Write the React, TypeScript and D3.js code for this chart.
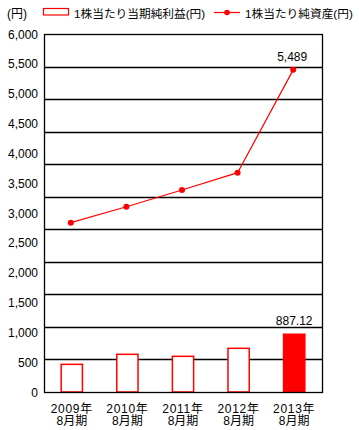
import React from "react";
import * as d3 from "d3";

const periods: string[][] = [
  ["2009年", "8月期"],
  ["2010年", "8月期"],
  ["2011年", "8月期"],
  ["2012年", "8月期"],
  ["2013年", "8月期"],
];
const eps: number[] = [425, 579, 548, 671, 887.12];
const bps: number[] = [2885, 3157, 3442, 3737, 5489];
const axisTicks: number[] = [0, 500, 1000, 1500, 2000, 2500, 3000, 3500, 4000, 4500, 5000, 5500, 6000];
const gridTicks: number[] = [500, 1000, 1500, 2000, 2500, 3000, 3500, 4000, 4500, 5000];
const legendLabels: string[] = ["1株当たり当期純利益(円)", "1株当たり純資産(円)"];

const font = "'Liberation Sans', Arial, 'Noto Sans CJK JP', sans-serif";

const App = (): React.JSX.Element => {
  const width = 359;
  const height = 430;
  const left = 44;
  const right = 322;
  const top = 34;
  const bottom = 392;

  const keys = periods.map((p) => p[0]);
  const x = d3.scaleBand<string>(keys, [left, right]).paddingInner(0.6).paddingOuter(0.3);
  const yAxis = d3.scaleLinear([0, 6000], [bottom, top]);
  const yBar = d3.scaleLinear([0, 5500], [bottom, top]);
  const yLine = d3.scaleLinear([0, 6100], [bottom, top]);
  const cx = (i: number) => (x(keys[i]) as number) + x.bandwidth() / 2;

  const line = d3.line<number>((_d, i) => cx(i) - 1, (d) => yLine(d));
  const fmt = d3.format(",");
  const last = eps.length - 1;

  return (
    <div style={{ position: "absolute", left: 0, top: 0 }}>
      <svg width={width} height={height} style={{ display: "block", fontFamily: font }}>
        <rect width={width} height={height} fill="#fff" />
        {/* legend */}
        <text x={7} y={18} fontSize={12}>(円)</text>
        <rect x={43.5} y={8.5} width={25} height={6.5} fill="#fff" stroke="#f00" strokeWidth={1.2} />
        <text x={74} y={18} fontSize={11.7}>{legendLabels[0]}</text>
        <line x1={214} x2={240} y1={12.5} y2={12.5} stroke="#f00" strokeWidth={1.2} />
        <circle cx={227} cy={12.5} r={2.8} fill="#f00" />
        <text x={245} y={18} fontSize={11.7}>{legendLabels[1]}</text>

        {/* grid */}
        {gridTicks.map((t) => (
          <line key={t} x1={left} x2={right} y1={Math.round(yBar(t)) + 0.5} y2={Math.round(yBar(t)) + 0.5} stroke="#000" strokeWidth={1.3} />
        ))}

        {/* bars */}
        {eps.map((v, i) => (
          <rect
            key={i}
            x={(x(keys[i]) as number) + 0.5}
            y={yBar(v)}
            width={x.bandwidth() - 1}
            height={bottom - yBar(v)}
            fill={i === last ? "#f00" : "#fff"}
            stroke="#f00"
            strokeWidth={1.5}
          />
        ))}
        <text x={cx(last)} y={yBar(eps[last]) - 9} fontSize={12} textAnchor="middle">{eps[last].toFixed(2)}</text>

        {/* line */}
        <path d={line(bps) as string} fill="none" stroke="#f00" strokeWidth={1.2} />
        {bps.map((v, i) => (
          <circle key={i} cx={cx(i) - 1} cy={yLine(v)} r={3} fill="#f00" />
        ))}
        <text x={cx(last) - 2} y={yLine(bps[last]) - 9} fontSize={12} textAnchor="middle">{fmt(bps[last])}</text>

        {/* frame */}
        <rect x={left + 0.5} y={top + 0.5} width={right - left} height={bottom - top} fill="none" stroke="#000" strokeWidth={1.3} />

        {/* y axis labels */}
        {axisTicks.map((t) => (
          <text key={t} x={38} y={yAxis(t) + 4.5} fontSize={12} textAnchor="end">{fmt(t)}</text>
        ))}

        {/* x axis labels */}
        {periods.map((p, i) => (
          <text key={i} x={cx(i)} fontSize={12} textAnchor="middle">
            <tspan x={cx(i)} y={412.5} letterSpacing={0.7}>{p[0]}</tspan>
            <tspan x={cx(i)} y={425}>{p[1]}</tspan>
          </text>
        ))}
      </svg>
    </div>
  );
};

export default App;
